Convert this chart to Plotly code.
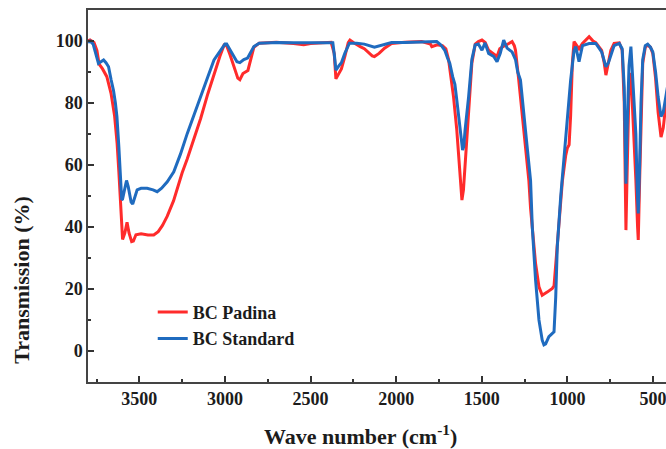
import plotly.graph_objects as go

# BC Padina (red)
padina_wn = [3800, 3788, 3765, 3748, 3735, 3715, 3690, 3665, 3645, 3630, 3620, 3611, 3603, 3598,
             3585, 3572, 3560, 3545, 3535, 3520, 3490, 3450, 3416, 3390, 3365, 3337, 3300, 3279,
             3250, 3220, 3180, 3142, 3100, 3064, 3030, 3005, 2990, 2970, 2945, 2925, 2913, 2895,
             2866, 2850, 2831, 2800, 2700, 2600, 2540, 2500, 2420, 2380, 2362, 2352, 2340, 2320,
             2300, 2280, 2270, 2250, 2210, 2186, 2140, 2127, 2100, 2068, 2027, 1950, 1851, 1800,
             1792, 1760, 1730, 1710, 1694, 1680, 1665, 1646, 1626, 1616, 1607, 1597, 1577, 1558,
             1538, 1520, 1499, 1480, 1460, 1430, 1411, 1395, 1382, 1342, 1323, 1310, 1303, 1284,
             1254, 1225, 1215, 1200, 1186, 1166, 1147, 1118, 1088, 1078, 1068, 1059, 1049, 1029,
             1010, 1000, 990, 981, 971, 961, 945, 932, 912, 873, 850, 834, 800, 785, 775, 760, 746,
             727, 697, 680, 668, 662, 658, 652, 640, 629, 615, 600, 590, 586, 578, 570, 560, 545,
             531, 515, 501, 485, 470, 453, 440, 420, 407]
padina_t = [100, 100.3, 99.5, 97, 92.5, 91, 88.5, 83, 76, 67, 58, 48, 37, 36,
            38, 41.5, 38, 35.3, 35.5, 37.5, 37.8, 37.4, 37.4, 38.5, 40.5, 43.5, 48.5, 52.5,
            57.5, 62, 68.5, 75, 83, 89.5, 95, 98.7, 98.5, 95.5, 91, 88, 87.5, 89.5,
            90.5, 94, 98, 99.3, 99.6, 99.2, 98.8, 99.2, 99.6, 99.6, 96, 87.8, 89, 91,
            95, 99.5, 100.3, 99.5, 98.2, 97.5, 95.2, 95, 96, 97.7, 99.2, 99.6, 99.8, 99,
            98.2, 98.8, 98.5, 97.5, 94, 88, 82, 71.3, 57.3, 48.7, 52, 60.6, 76.7, 92.8,
            99, 99.8, 100.3, 99.5, 97, 95.6, 95, 97.5, 98, 99.2, 99.8, 98.5, 97, 87.4,
            71.3, 55, 46, 36, 28.3, 20.7, 18, 19, 20.2, 21, 28.3, 33.6, 41, 55,
            63, 65.5, 66.5, 76, 92.8, 99.8, 98.5, 97.5, 99.2, 101.4, 100, 99.5, 97, 93, 89, 93, 97,
            99.2, 99.4, 97, 80, 55, 39, 55, 85, 89.7, 75, 55, 40, 35.8, 55, 75, 92.8, 98,
            98.7, 98, 96, 88, 77, 69, 72, 82, 88]

# BC Standard (blue)
standard_wn = [3800, 3788, 3770, 3755, 3739, 3720, 3709, 3695, 3680, 3665, 3651, 3640, 3631, 3620,
               3611, 3603, 3598, 3585, 3575, 3565, 3548, 3539, 3525, 3513, 3490, 3455, 3420, 3396,
               3370, 3337, 3299, 3260, 3220, 3180, 3142, 3100, 3064, 3030, 3000, 2990, 2975, 2950,
               2930, 2913, 2890, 2868, 2850, 2831, 2800, 2700, 2600, 2500, 2400, 2370, 2360, 2352,
               2335, 2320, 2300, 2273, 2230, 2186, 2127, 2068, 2027, 1950, 1851, 1800, 1763, 1740,
               1716, 1700, 1687, 1670, 1657, 1646, 1636, 1620, 1612, 1605, 1598, 1577, 1558, 1539,
               1520, 1499, 1481, 1460, 1430, 1411, 1392, 1372, 1352, 1323, 1303, 1290, 1274, 1245,
               1215, 1205, 1196, 1186, 1166, 1147, 1137, 1127, 1108, 1088, 1078, 1068, 1059, 1039,
               1020, 1000, 981, 961, 951, 932, 912, 873, 834, 800, 775, 760, 746, 727, 697, 680,
               668, 662, 658, 652, 640, 629, 618, 600, 592, 586, 578, 570, 560, 545, 531, 515, 501,
               485, 470, 453, 440, 420, 407]
standard_t = [99.5, 100, 99, 96, 92.8, 93.5, 93.9, 93, 91.7, 87.5, 84, 80, 75.6, 66,
              56, 48.7, 49, 53, 55, 53, 48, 47.4, 50, 52, 52.5, 52.5, 52, 51.4,
              52.5, 54.6, 57.8, 63.5, 70.2, 76.5, 82, 88.5, 93.9, 96.5, 99, 99, 97.5, 95,
              93.3, 93, 94, 94.5, 96.5, 98.2, 99.3, 99.5, 99.4, 99.4, 99.6, 99.4, 95, 90.6,
              92, 93, 96, 99.3, 99.3, 99, 98, 99, 99.5, 99.5, 99.7, 99.6, 99.8, 98.8,
              97, 94.5, 92.8, 88.5, 86, 81, 76.7, 68, 64.8, 66, 71, 82, 94, 98.7,
              99, 97, 99.4, 96, 95, 93.3, 96, 100.3, 97.7, 96.5, 94, 90, 87.4, 71.3,
              55, 40, 32, 23, 10, 3.5, 2, 2.3, 4.6, 5.7, 6.2, 17.5, 33.6, 49.8,
              62.7, 73.4, 87.4, 97, 98.2, 93.3, 98.5, 99.2, 99.2, 96.5, 91.7, 93, 95.5, 98.5, 99.2, 97.5,
              85, 65, 54, 70, 92, 98.2, 88, 70, 52, 44.4, 60, 80, 94, 98.5, 99, 98, 96.5,
              90, 82, 75.6, 77, 84, 88]

x_ticks = [3500, 3000, 2500, 2000, 1500, 1000, 500]
y_ticks = [0, 20, 40, 60, 80, 100]

FONT = "Liberation Serif"
TXT = "#1c1c1c"

fig = go.Figure()
fig.add_trace(go.Scatter(x=padina_wn, y=padina_t, mode="lines", name="<b>BC Padina</b>",
                         line=dict(color="#ff2b2b", width=3)))
fig.add_trace(go.Scatter(x=standard_wn, y=standard_t, mode="lines", name="<b>BC Standard</b>",
                         line=dict(color="#1f6bbf", width=3)))

fig.update_layout(
    width=666, height=449,
    margin=dict(l=88, r=0, t=10, b=67, autoexpand=False),
    paper_bgcolor="white", plot_bgcolor="white",
    font=dict(family=FONT, color=TXT),
    showlegend=True,
    legend=dict(x=0.112, y=0.237, xanchor="left", yanchor="top",
                bgcolor="rgba(0,0,0,0)", font=dict(family=FONT, size=18, color=TXT),
                tracegroupgap=0, itemwidth=30),
    xaxis=dict(range=[3800, 424], showgrid=False, zeroline=False, automargin=False,
               showline=True, linecolor="#444", linewidth=1.5, mirror=True,
               ticks="inside", ticklen=6, tickwidth=1.5, tickcolor="#333",
               tickvals=x_ticks, ticktext=[f"<b>{v}</b>" for v in x_ticks],
               ticklabeloverflow="allow",
               tickfont=dict(family=FONT, size=18, color=TXT),
               minor=dict(dtick=250, ticks="inside", ticklen=3, tickwidth=1.5, tickcolor="#333")),
    yaxis=dict(range=[-10, 110], showgrid=False, zeroline=False, automargin=False,
               showline=True, linecolor="#444", linewidth=1.5, mirror=False,
               ticks="inside", ticklen=6, tickwidth=1.5, tickcolor="#333",
               tickvals=y_ticks, ticktext=[f"<b>{v}</b>" for v in y_ticks],
               tickfont=dict(family=FONT, size=18, color=TXT),
               minor=dict(dtick=10, ticks="inside", ticklen=3, tickwidth=1.5, tickcolor="#333")),
    annotations=[
        dict(text="<b>Wave number (cm<sup>-1</sup>)</b>", xref="paper", yref="paper",
             x=0.472, y=-0.142, xanchor="center", yanchor="middle", showarrow=False,
             font=dict(family=FONT, size=22, color=TXT)),
        dict(text="<b>Transmission (%)</b>", xref="paper", yref="paper",
             x=-0.114, y=0.275, xanchor="center", yanchor="middle", showarrow=False,
             textangle=-90, font=dict(family=FONT, size=22, color=TXT)),
    ],
)

fig.write_html("out.html", config={"displayModeBar": False},
               post_script="document.body.style.margin='0';document.body.style.overflow='hidden';")
